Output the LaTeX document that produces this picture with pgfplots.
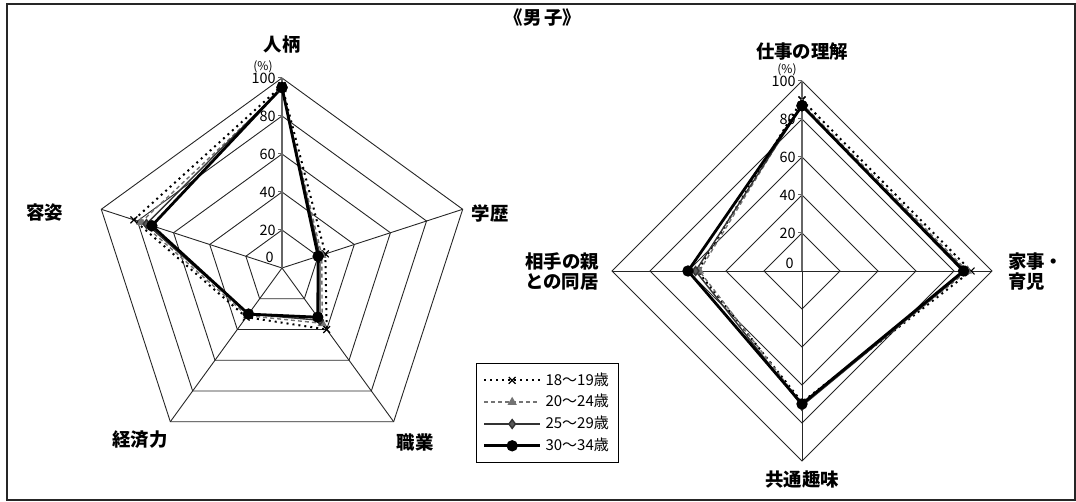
\documentclass[border=0pt]{standalone}
\usepackage{fontspec}
\setmainfont{Noto Sans CJK JP}
\usepackage{pgfplots}
\pgfplotsset{compat=1.18}
\usepgfplotslibrary{polar}

\pgfplotsset{
  radar/.style={hide axis, scale only axis, width=190pt, height=190pt,
    xmin=0, xmax=360, ymin=0, ymax=100, clip=false, anchor=origin},
  ring/.style={black!85, line width=0.45pt, forget plot},
  valaxis/.style={black!60, line width=0.9pt, forget plot},
  s18/.style={black, line width=1pt, dotted, mark=x, mark size=2.4pt,
    mark options={solid, line width=0.6pt}},
  s20/.style={black!55, line width=0.7pt, dash pattern=on 2pt off 1.5pt,
    mark=triangle*, mark size=2pt, mark options={solid, fill=black!55}},
  s25/.style={black!80, line width=0.7pt, mark=diamond*, mark size=2.2pt,
    mark options={solid, fill=black!65}},
  s30/.style={black, line width=1.4pt, mark=*, mark size=2.1pt},
  legend image code/.code={%
    \draw[mark repeat=2, mark phase=2, #1]
      plot coordinates {(0pt,0pt) (14pt,0pt) (28pt,0pt)};},
}
\newcommand{\cat}{\fontsize{9.2}{10}\selectfont\bfseries}
\newcommand{\tk}{\fontsize{7.2}{8}\selectfont}

\begin{document}
\begin{tikzpicture}
  \path[use as bounding box] (0,0) rectangle (538pt,251pt);
  \draw[black!85, line width=0.8pt] (3.5pt,1pt) rectangle (537.5pt,249pt);
  % legend shadow
  \fill[black!40] (238.5pt,21.5pt) rectangle (308pt,68pt);

  % left radar: 人柄, 学歴, 職業, 経済力, 容姿
  \begin{polaraxis}[radar, at={(141pt,117pt)},
      legend style={at={(1.011,0.25)}, anchor=north west, draw=black,
        line width=0.6pt, fill=white, font=\fontsize{7.5}{9}\selectfont,
        inner xsep=3pt, inner ysep=2.5pt, row sep=-0.9pt, cells={anchor=west}}]
    \pgfplotsinvokeforeach{20,40,60,80,100}{
      \addplot[ring] coordinates {(90,#1) (18,#1) (306,#1) (234,#1) (162,#1) (90,#1)};
    }
    \addplot[ring] coordinates {(0,0) (18,100)};
    \addplot[ring] coordinates {(0,0) (306,100)};
    \addplot[ring] coordinates {(0,0) (234,100)};
    \addplot[ring] coordinates {(0,0) (162,100)};
    \addplot[valaxis] coordinates {(90,0) (90,100)};
    \pgfplotsinvokeforeach{20,40,60,80,100}{
      \draw[black!60, line width=0.5pt] (axis cs:90,#1) -- ++(-2pt,0pt);
      \node[anchor=east, inner sep=0pt, font=\tk] at ([xshift=-3pt]axis cs:90,#1) {#1};
    }
    \node[anchor=east, inner sep=0pt, font=\tk] at ([xshift=-4pt, yshift=5.5pt]axis cs:90,0) {0};
    \node[inner sep=0pt, font=\fontsize{6}{7}\selectfont] at ([xshift=-9.5pt, yshift=5.5pt]axis cs:90,100) {(\%)};

    \addplot[s18] coordinates {(90,96) (18,24) (306,40) (234,32) (162,82) (90,96)};
    \addplot[s20] coordinates {(90,94) (18,22) (306,36) (234,31) (162,78) (90,94)};
    \addplot[s25] coordinates {(90,95) (18,21) (306,34) (234,30) (162,75) (90,95)};
    \addplot[s30] coordinates {(90,95) (18,20) (306,32) (234,30) (162,72) (90,95)};
    \legend{18〜19歳, 20〜24歳, 25〜29歳, 30〜34歳}
  \end{polaraxis}

  % right radar: 仕事の理解, 家事・育児, 共通趣味, 相手の親との同居
  \begin{polaraxis}[radar, at={(401pt,115.5pt)}]
    \pgfplotsinvokeforeach{20,40,60,80,100}{
      \addplot[ring] coordinates {(90,#1) (0,#1) (270,#1) (180,#1) (90,#1)};
    }
    \addplot[ring] coordinates {(0,0) (0,100)};
    \addplot[ring] coordinates {(0,0) (270,100)};
    \addplot[ring] coordinates {(0,0) (180,100)};
    \addplot[valaxis] coordinates {(90,0) (90,100)};
    \pgfplotsinvokeforeach{20,40,60,80,100}{
      \draw[black!60, line width=0.5pt] (axis cs:90,#1) -- ++(-2pt,0pt);
      \node[anchor=east, inner sep=0pt, font=\tk] at ([xshift=-3pt]axis cs:90,#1) {#1};
    }
    \node[anchor=east, inner sep=0pt, font=\tk] at ([xshift=-4pt, yshift=4pt]axis cs:90,0) {0};
    \node[inner sep=0pt, font=\fontsize{6}{7}\selectfont] at ([xshift=-7.5pt, yshift=5.5pt]axis cs:90,100) {(\%)};

    \addplot[s18] coordinates {(90,90) (0,89) (270,69) (180,55) (90,90)};
    \addplot[s20] coordinates {(90,88) (0,87) (270,70) (180,54) (90,88)};
    \addplot[s25] coordinates {(90,87) (0,86) (270,71) (180,56) (90,87)};
    \addplot[s30] coordinates {(90,87) (0,85) (270,70) (180,60) (90,87)};
  \end{polaraxis}

  % category labels and title
  \node[font=\cat] at (141pt,228.5pt) {人柄};
  \node[font=\cat] at (245pt,144.5pt) {学歴};
  \node[font=\cat] at (207.5pt,29.5pt) {職業};
  \node[font=\cat] at (70pt,31pt) {経済力};
  \node[font=\cat] at (22.5pt,144.5pt) {容姿};
  \node[font=\cat] at (401pt,225pt) {仕事の理解};
  \node[font=\cat, anchor=west, align=left] at (500.5pt,115pt) {家事・\\育児};
  \node[font=\cat, anchor=east, align=left] at (303pt,115pt) {相手の親\\との同居};
  \node[font=\cat] at (401pt,11pt) {共通趣味};
  \node[font=\cat] at (271.5pt,242pt) {《男\,子》};
\end{tikzpicture}
\end{document}
